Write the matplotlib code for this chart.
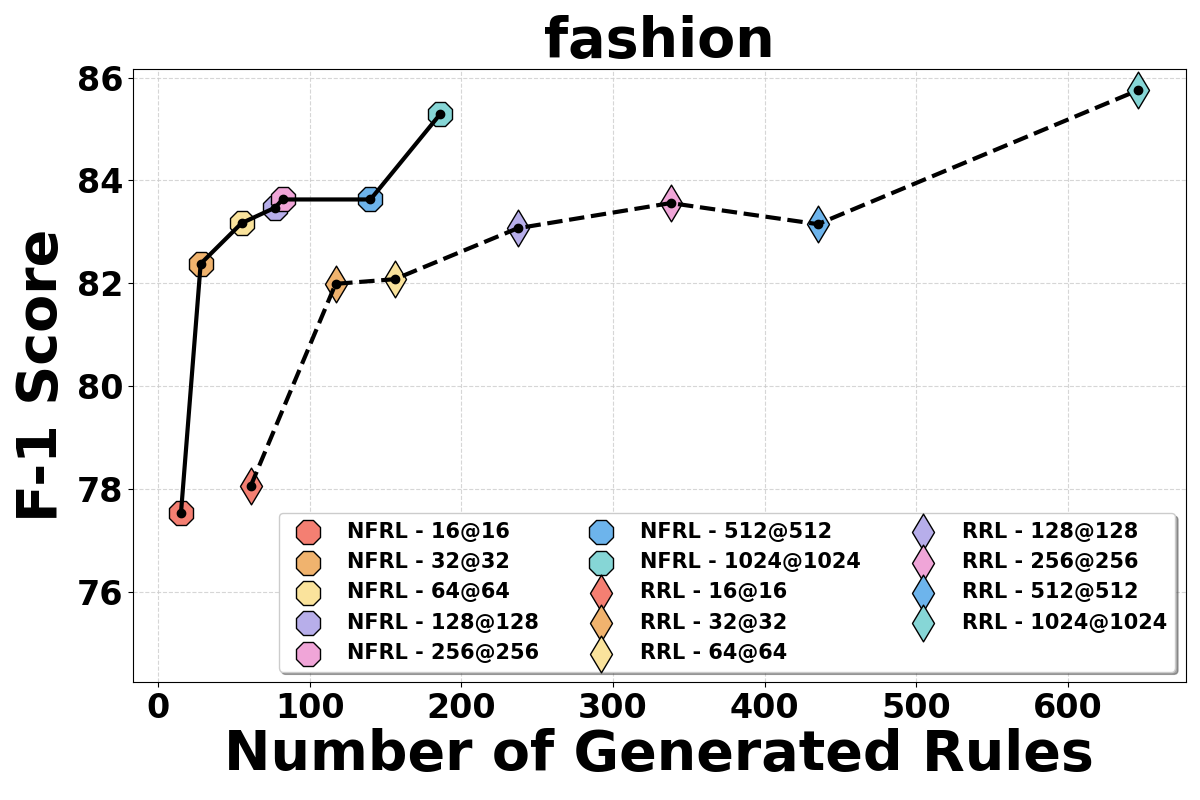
import numpy as np
import matplotlib.pyplot as plt

sizes = ['16@16', '32@32', '64@64', '128@128', '256@256', '512@512', '1024@1024']
colors = ['#F47F72', '#F0B36E', '#FAE39C', '#B7AEEA', '#F0A5D8', '#6DB4EC', '#86D6D6']

nfrl_rules = [15, 28, 55, 77, 82, 140, 186]
nfrl_f1 = [77.53, 82.38, 83.17, 83.47, 83.63, 83.63, 85.29]

rrl_rules = [61, 117, 156, 237, 338, 435, 646]
rrl_f1 = [78.06, 81.99, 82.08, 83.07, 83.56, 83.15, 85.75]

fig, ax = plt.subplots(figsize=(12, 8), dpi=100)

for i in range(len(sizes)):
    ax.scatter(nfrl_rules[i], nfrl_f1[i], marker='8', s=350, color=colors[i],
               edgecolor='black', linewidth=1, label='NFRL - ' + sizes[i], zorder=3)
for i in range(len(sizes)):
    ax.scatter(rrl_rules[i], rrl_f1[i], marker='d', s=350, color=colors[i],
               edgecolor='black', linewidth=1, label='RRL - ' + sizes[i], zorder=3)

ax.plot(nfrl_rules, nfrl_f1, '-', color='black', linewidth=3,
        marker='o', markersize=6, zorder=4)
ax.plot(rrl_rules, rrl_f1, '--', color='black', linewidth=3,
        marker='o', markersize=6, zorder=4)

ax.set_xlim(-16.5, 677.6)
ax.set_ylim(74.25, 86.17)
ax.set_yticks([76, 78, 80, 82, 84, 86])
ax.grid(True, linestyle='--', color='#cccccc', alpha=0.8)

ax.set_title('fashion', fontsize=40, fontweight='bold')
ax.set_xlabel('Number of Generated Rules', fontsize=40, fontweight='bold', labelpad=2)
ax.set_ylabel('F-1 Score', fontsize=40, fontweight='bold', labelpad=6)
ax.tick_params(labelsize=24)
for lab in ax.get_xticklabels() + ax.get_yticklabels():
    lab.set_fontweight('bold')

ax.legend(loc='lower right', ncol=3, shadow=True, prop={'size': 15, 'weight': 'bold'},
          borderaxespad=0.5, columnspacing=2.0, handletextpad=0.85)

plt.subplots_adjust(left=0.111, right=0.988, bottom=0.1475, top=0.914)
plt.savefig('out.png')
